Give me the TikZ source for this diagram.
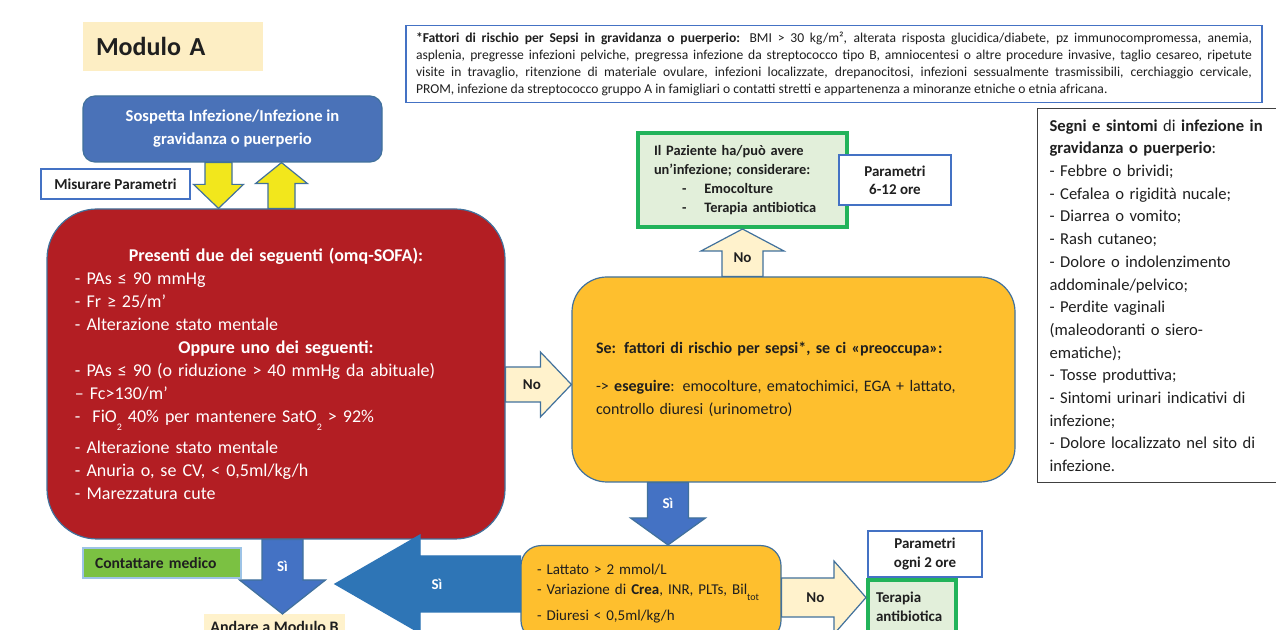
\documentclass[tikz,border=0pt]{standalone}
\usepackage{fontspec}
\setmainfont{Carlito}
\usepackage{tikz}
\usetikzlibrary{calc}

\definecolor{boxline}{HTML}{41719C}
\definecolor{noteline}{HTML}{4472C4}
\definecolor{sblue}{HTML}{4A72B8}
\definecolor{sred}{HTML}{B31E23}
\definecolor{sorange}{HTML}{FEBF2E}
\definecolor{cream}{HTML}{FFF2CC}
\definecolor{titlefill}{HTML}{FDEEC4}
\definecolor{syellow}{HTML}{F2E71C}
\definecolor{gline}{HTML}{22B35A}
\definecolor{gfill}{HTML}{E2EFDA}
\definecolor{cgreen}{HTML}{7BC142}
\definecolor{cline}{HTML}{9DC3E6}
\definecolor{arrowblue}{HTML}{4472C4}
\definecolor{bigblue}{HTML}{2E75B6}
\definecolor{signline}{HTML}{404040}
\definecolor{ink}{HTML}{1F1F1F}

\tikzset{
	titlebox/.style={fill=titlefill, minimum width=90pt, minimum height=24.5pt, text width=77pt, inner xsep=6.5pt, align=left, text=ink, font=\fontsize{13}{15}\selectfont\bfseries},
	notebox/.style={draw=noteline, fill=white, line width=0.6pt, minimum height=38pt, text width=418pt, inner xsep=5pt, align=justify, text=ink, font=\fontsize{6.8}{8.5}\selectfont},
	bluebox/.style={draw=boxline, fill=sblue, line width=0.6pt, rounded corners=6pt, minimum width=149.5pt, minimum height=33pt, align=center, text=white, font=\fontsize{8.3}{11.5}\selectfont\bfseries},
	whitebox/.style={draw=noteline, fill=white, line width=0.6pt, align=center, text=ink, font=\fontsize{7.6}{9.5}\selectfont\bfseries},
	parbox/.style={whitebox, font=\fontsize{7.5}{9.2}\selectfont\bfseries},
	redbox/.style={draw=boxline, fill=sred, line width=0.6pt, rounded corners=25pt, minimum width=229pt, minimum height=165pt, text width=201pt, inner xsep=14pt, align=left, text=white, font=\fontsize{9}{11.5}\selectfont},
	orangebox/.style={draw=boxline, fill=sorange, line width=0.6pt, align=left, text=ink},
	greenbox/.style={draw=gline, fill=gfill, line width=2pt, align=left, text=ink, font=\fontsize{7.2}{9.5}\selectfont\bfseries},
	contactbox/.style={draw=cline, fill=cgreen, line width=0.6pt, minimum width=79pt, minimum height=15pt, text width=67pt, inner xsep=6pt, align=left, text=ink, font=\fontsize{7.8}{8.5}\selectfont\bfseries},
	signbox/.style={draw=signline, fill=white, line width=0.6pt, minimum height=187pt, text width=130pt, inner xsep=6pt, align=left, text=ink, font=\fontsize{8.3}{11.35}\selectfont},
	creamarrow/.style={draw=boxline, fill=cream, line width=0.6pt, text=ink, font=\fontsize{7.5}{9}\selectfont\bfseries},
	bluearrow/.style={draw=boxline, fill=arrowblue, line width=0.6pt, text=white, font=\fontsize{7.5}{9}\selectfont\bfseries},
	bigarrow/.style={draw=bigblue, fill=bigblue, line width=0.6pt, text=white, font=\fontsize{7.5}{9}\selectfont\bfseries},
	yellowarrow/.style={draw=boxline, fill=syellow, line width=0.6pt}
}

% block arrow: style, from, tip, half shaft, half head, head length (pt), label pos, label
\newcommand{\blockarrow}[8][]{%
	\draw[#1] let \p1=#2, \p2=#3, \n1={atan2(\y2-\y1,\x2-\x1)}, \n2={veclen(\x2-\x1,\y2-\y1)} in
		[shift={(\p1)}, rotate=\n1, x=1pt, y=1pt]
		(0,-#4) -- ({\n2-#6},-#4) -- ({\n2-#6},-#5) -- (\n2,0) -- ({\n2-#6},#5) -- ({\n2-#6},#4) -- (0,#4) -- cycle
		({\n2*#7},0) node {#8};}

\newcommand{\lowidx}[1]{\raisebox{-0.9ex}{\fontsize{5}{6}\selectfont #1}}

\begin{document}
\begin{tikzpicture}[x=0.5pt,y=-0.5pt]
	\useasboundingbox (0,0) rectangle (1276,630);
	\fill[white] (0,0) rectangle (1276,630);
	\clip (0,0) rectangle (1276,630);

	% Title
	\node[titlebox] (modA) at (173,46.5) {Modulo A};

	% Risk factors note
	\node[notebox] (riskNote) at (834,64) {\textbf{*Fattori di rischio per Sepsi in gravidanza o puerperio:} BMI > 30 kg/m², alterata risposta glucidica/diabete, pz immunocompromessa, anemia,\linebreak
		asplenia, pregresse infezioni pelviche, pregressa infezione da streptococco tipo B, amniocentesi o altre procedure invasive, taglio cesareo, ripetute\linebreak
		visite in travaglio, ritenzione di materiale ovulare, infezioni localizzate, drepanocitosi, infezioni sessualmente trasmissibili, cerchiaggio cervicale,\linebreak
		PROM, infezione da streptococco gruppo A in famigliari o contatti stretti e appartenenza a minoranze etniche o etnia africana.};

	% Suspected infection
	\node[bluebox] (suspect) at (232.5,129) {Sospetta Infezione/Infezione in\\gravidanza o puerperio};
	\node[whitebox, minimum width=74.5pt, minimum height=15pt] (measure) at (115.5,184) {Misurare Parametri};

	% qSOFA
	\node[redbox] (qsofa) at (276,374) {\makebox[\hsize]{\textbf{Presenti due dei seguenti (omq-SOFA):}}\\
		- PAs ≤ 90 mmHg\\
		- Fr ≥ 25/m’\\
		- Alterazione stato mentale\\
		\makebox[\hsize]{\textbf{Oppure uno dei seguenti:}}\\
		- PAs ≤ 90 (o riduzione > 40 mmHg da abituale)\\
		– Fc>130/m’\\
		-\ \ FiO\lowidx{2} 40\% per mantenere SatO\lowidx{2}\ > 92\%\\[4pt]
		- Alterazione stato mentale\\
		- Anuria o, se CV, < 0,5ml/kg/h\\
		- Marezzatura cute};

	\coordinate (downX) at (218.5,0);
	\coordinate (upX) at (281.5,0);
	\blockarrow[yellowarrow]{(suspect.south -| downX)}{(qsofa.north -| downX)}{6.75}{12.5}{12}{0.5}{}
	\blockarrow[yellowarrow]{(qsofa.north -| upX)}{(suspect.south -| upX)}{6.75}{13}{10.5}{0.5}{}

	% Risk check
	\node[orangebox, rounded corners=17.5pt, minimum width=221.5pt, minimum height=102.5pt, text width=197.5pt, inner xsep=12pt, font=\fontsize{8}{11.5}\selectfont] (riskCheck) at (793.5,379.5) {\textbf{Se: fattori di rischio per sepsi*, se ci «preoccupa»:}\\[7.5pt]
		-> \textbf{eseguire}: emocolture, ematochimici, EGA + lattato,\\
		controllo diuresi (urinometro)};
	\blockarrow[creamarrow]{(qsofa.east |- 0,384.5)}{(riskCheck.west |- 0,384.5)}{8.75}{16.25}{15.5}{0.4}{No}

	% Infection, parameters 6-12 h
	\node[greenbox, minimum width=104.5pt, minimum height=47pt, text width=88.5pt, inner xsep=8pt] (infect) at (742.5,180) {Il Paziente ha/può avere\\
		un’infezione; considerare:\\
		\hspace*{14pt}-\hspace{9pt}Emocolture\\
		\hspace*{14pt}-\hspace{9pt}Terapia antibiotica};
	\node[parbox, minimum width=56pt, minimum height=25pt] (par1) at (895,180) {Parametri\\6-12 ore};
	\blockarrow[creamarrow]{(riskCheck.north -| infect.south)}{(infect.south)}{10.25}{20.75}{11}{0.4}{No}

	% Signs and symptoms
	\node[signbox, anchor=north west] (signs) at (1037,108) {\textbf{Segni e sintomi} di \textbf{infezione in}\\
		\textbf{gravidanza o puerperio}:\\
		- Febbre o brividi;\\
		- Cefalea o rigidità nucale;\\
		- Diarrea o vomito;\\
		- Rash cutaneo;\\
		- Dolore o indolenzimento\\
		addominale/pelvico;\\
		- Perdite vaginali\\
		(maleodoranti o siero-\\
		ematiche);\\
		- Tosse produttiva;\\
		- Sintomi urinari indicativi di\\
		infezione;\\
		- Dolore localizzato nel sito di\\
		infezione.};

	% Lab values
	\node[orangebox, anchor=north, rounded corners=10pt, text width=114pt, inner xsep=8pt, inner ysep=9pt, font=\fontsize{7.5}{10}\selectfont] (lab) at (651,545) {- Lattato > 2 mmol/L\\
		- Variazione di \textbf{Crea}, INR, PLTs, Bil\lowidx{tot}\\[3pt]
		- Diuresi < 0,5ml/kg/h};
	\coordinate (siA) at (668,0);
	\blockarrow[bluearrow]{(riskCheck.south -| siA)}{(lab.north -| siA)}{10.25}{18.75}{13.5}{0.33}{Sì}

	% Antibiotics, parameters 2 h
	\node[parbox, minimum width=57pt, minimum height=23pt] (par2) at (925,554) {Parametri\\ogni 2 ore};
	\node[greenbox, anchor=north, text width=36pt, inner xsep=4pt, inner ysep=6pt, font=\fontsize{7.5}{9.5}\selectfont\bfseries] (ther) at (912,578) {Terapia\\antibiotica};
	\blockarrow[creamarrow]{(lab.east |- 0,597.5)}{(ther.west |- 0,597.5)}{9.75}{18.25}{16}{0.4}{No}

	% Module B
	\node[fill=cream, anchor=north, minimum width=70.5pt, inner ysep=3.5pt, text=ink, font=\fontsize{8}{9.5}\selectfont\bfseries] (goB) at (274.5,614) {Andare a Modulo B};
	\node[contactbox] (call) at (162,563) {Contattare medico};
	\coordinate (siB) at (282.5,0);
	\blockarrow[bluearrow]{(qsofa.south -| siB)}{(goB.north -| siB)}{10.25}{21.5}{17}{0.36}{Sì}
	\coordinate (bigTip) at (335,584);
	\blockarrow[bigarrow]{(lab.west |- bigTip)}{(bigTip)}{14}{24.5}{42.5}{0.45}{Sì}

\end{tikzpicture}
\end{document}
